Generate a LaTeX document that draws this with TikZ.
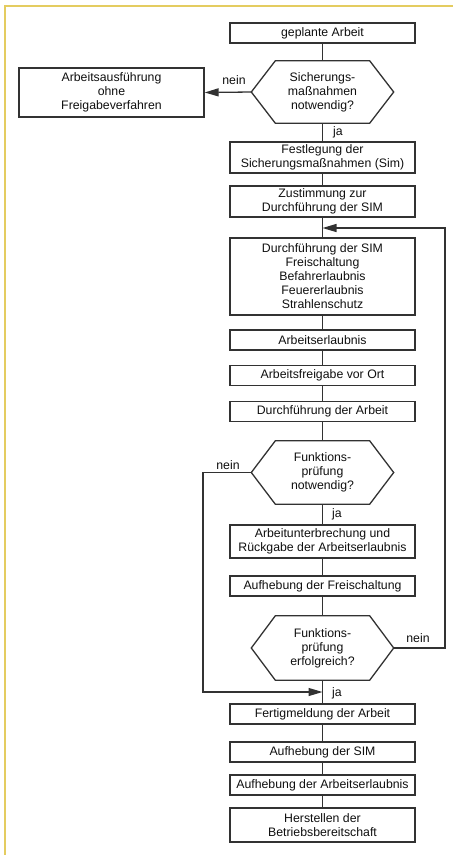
\documentclass[tikz,border=0pt]{standalone}
\usepackage{fontspec}
\setmainfont{Liberation Sans}
\usetikzlibrary{arrows.meta,calc}
\definecolor{frameyellow}{RGB}{228,204,96}
\definecolor{linegray}{RGB}{50,50,50}
\definecolor{textdark}{RGB}{15,15,15}
\tikzset{
  every node/.style={font=\fontsize{12.3}{14}\selectfont, text=textdark},
  box/.style={draw=linegray, line width=1.3pt, minimum width=185pt, align=center, inner sep=0pt},
  dec/.style={minimum width=142pt, align=center, inner sep=0pt},
  link/.style={draw=linegray, line width=1.3pt},
  arr/.style={link, -{Triangle[length=14pt,width=8pt]}},
  lab/.style={inner sep=0pt},
}
% hexagonal decision outline around a named node
\newcommand\hexframe[1]{%
  \draw[link] (#1.west) -- ([xshift=24pt]#1.north west) -- ([xshift=-24pt]#1.north east)
    -- (#1.east) -- ([xshift=-24pt]#1.south east) -- ([xshift=24pt]#1.south west) -- cycle;}
\begin{document}
\begin{tikzpicture}[x=1pt,y=-1pt]
\useasboundingbox (0,0) rectangle (453,855);
\draw[frameyellow, line width=2pt] (5,855) -- (5,5.5) -- (453,5.5);

% main column
\node[box, minimum height=20pt] (g1) at (322.5,33) {geplante Arbeit};
\node[dec, minimum height=62pt] (h1) at (322.5,92) {Sicherungs-\\maßnahmen\\notwendig?};
\hexframe{h1}
\node[box, minimum height=31pt] (b2) at (322.5,157.5) {Festlegung der\\Sicherungsmaßnahmen (Sim)};
\node[box, minimum height=31pt] (b3) at (322.5,201.5) {Zustimmung zur\\Durchführung der SIM};
\node[box, minimum height=77pt] (b4) at (322.5,276.5) {Durchführung der SIM\\Freischaltung\\Befahrerlaubnis\\Feuererlaubnis\\Strahlenschutz};
\node[box, minimum height=20pt] (b5) at (322.5,340) {Arbeitserlaubnis};
\node[box, minimum height=20pt] (b6) at (322.5,375.5) {Arbeitsfreigabe vor Ort};
\node[box, minimum height=20pt] (b7) at (322.5,411.5) {Durchführung der Arbeit};
\node[dec, minimum height=63pt] (h2) at (322.5,472.5) {Funktions-\\prüfung\\notwendig?};
\hexframe{h2}
\node[box, minimum height=33pt] (b8) at (322.5,541.5) {Arbeitunterbrechung und\\Rückgabe der Arbeitserlaubnis};
\node[box, minimum height=20pt] (b9) at (322.5,586) {Aufhebung der Freischaltung};
\node[dec, minimum height=64pt] (h3) at (322.5,648) {Funktions-\\prüfung\\erfolgreich?};
\hexframe{h3}
\node[box, minimum height=20pt] (b10) at (322.5,714) {Fertigmeldung der Arbeit};
\node[box, minimum height=20pt] (b11) at (322.5,752) {Aufhebung der SIM};
\node[box, minimum height=20pt] (b12) at (322.5,785) {Aufhebung der Arbeitserlaubnis};
\node[box, minimum height=34pt] (b13) at (322.5,825) {Herstellen der\\Betriebsbereitschaft};

% side branch
\node[box, minimum height=49pt] (l1) at (111.5,92.5) {Arbeitsausführung\\ohne\\Freigabeverfahren};

% vertical flow
\draw[link] (g1.south) -- (h1.north);
\draw[link] (h1.south) -- (b2.north);
\draw[link] (b2.south) -- (b3.north);
\draw[link] (b3.south) -- (b4.north);
\draw[link] (b4.south) -- (b5.north);
\draw[link] (b5.south) -- (b6.north);
\draw[link] (b6.south) -- (b7.north);
\draw[link] (b7.south) -- (h2.north);
\draw[link] (h2.south) -- (b8.north);
\draw[link] (b8.south) -- (b9.north);
\draw[link] (b9.south) -- (h3.north);
\draw[link] (h3.south) -- (b10.north);
\draw[link] (b10.south) -- (b11.north);
\draw[link] (b11.south) -- (b12.north);
\draw[link] (b12.south) -- (b13.north);

% branches
\draw[arr] (h1.west) -- (l1.east);
\coordinate (jr) at (322.5,228);
\coordinate (rc) at (445,228);
\draw[arr] (h3.east) -| (rc) -- (jr);
\coordinate (jl) at (322.5,692);
\coordinate (lc) at (203,692);
\draw[arr] (h2.west) -| (lc) -- (jl);

% branch labels
\node[lab] (n1) at (234,80) {nein};
\node[lab] (j1) at (338,132) {ja};
\node[lab] (n2) at (228,465) {nein};
\node[lab] (j2) at (337,514) {ja};
\node[lab] (n3) at (418,638) {nein};
\node[lab] (j3) at (337,693) {ja};
\end{tikzpicture}
\end{document}
